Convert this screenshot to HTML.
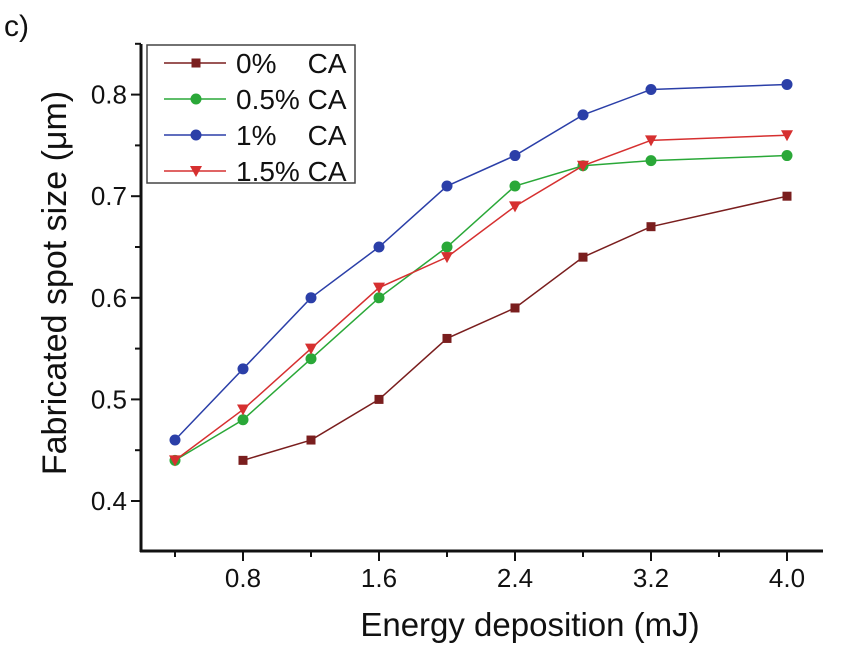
<!DOCTYPE html>
<html><head><meta charset="utf-8"><style>
html,body{margin:0;padding:0;background:#fff;}
svg{display:block;font-family:"Liberation Sans",Arial,sans-serif;}
</style></head><body>
<svg id="chart" width="858" height="648" viewBox="0 0 858 648">
<text x="4" y="36" font-size="30" fill="#111">c)</text>
<g id="axes"></g>
<g id="series"></g>
<g id="legend">
<rect x="147" y="45" width="208" height="138" fill="#fff" stroke="#444" stroke-width="1.5"/>
</g>
<text x="530" y="636" font-size="33" text-anchor="middle" fill="#111">Energy deposition (mJ)</text>
<text transform="translate(66,283) rotate(-90)" font-size="34" text-anchor="middle" fill="#111">Fabricated spot size (μm)</text>
</svg>
<script>
const xs9 = [0.4,0.8,1.2,1.6,2.0,2.4,2.8,3.2,4.0];
const xs0 = [0.8,1.2,1.6,2.0,2.4,2.8,3.2,4.0];
const ca0 = [0.44,0.46,0.50,0.56,0.59,0.64,0.67,0.70];
const ca05 = [0.44,0.48,0.54,0.60,0.65,0.71,0.73,0.735,0.74];
const ca1 = [0.46,0.53,0.60,0.65,0.71,0.74,0.78,0.805,0.81];
const ca15 = [0.44,0.49,0.55,0.61,0.64,0.69,0.73,0.755,0.76];
const xTicks = ["0.8","1.6","2.4","3.2","4.0"];
const yTicks = ["0.4","0.5","0.6","0.7","0.8"];
const names = ["0%    CA","0.5% CA","1%    CA","1.5% CA"];

const NS="http://www.w3.org/2000/svg";
function X(v){return 243+(v-0.8)*(787-243)/3.2;}
function Y(v){return 501-(v-0.4)*1016;}
function mk(tag,attrs,parent){const e=document.createElementNS(NS,tag);for(const k in attrs)e.setAttribute(k,attrs[k]);parent.appendChild(e);return e;}
const axes=document.getElementById('axes');
let a=mk('line',{x1:141,y1:44,x2:141,y2:552,stroke:'#111','stroke-width':3},axes);


a=mk('line',{x1:140,y1:551,x2:823,y2:551,stroke:'#111','stroke-width':3},axes);


for(let v=0.4;v<=4.01;v+=0.4){const major=xTicks.includes(v.toFixed(1));
 const t=mk('line',{x1:X(v),x2:X(v),y1:551,y2:major?561:557,stroke:'#111','stroke-width':2},axes);
 
 }
xTicks.forEach(s=>{const t=mk('text',{x:X(+s),y:587,'font-size':26,'text-anchor':'middle',fill:'#111'},axes);t.textContent=s;
 
 });
for(let v=0.4;v<=0.851;v+=0.05){
 const major=Math.abs(v*10-Math.round(v*10))<0.01;
 const t=mk('line',{x1:major?131:135,x2:141,y1:Y(v),y2:Y(v),stroke:'#111','stroke-width':2},axes);
 
 }
yTicks.forEach(s=>{const t=mk('text',{x:127,y:Y(+s)+9,'font-size':26,'text-anchor':'end',fill:'#111'},axes);t.textContent=s;
 
 });

const series=[
 {x:xs0,y:ca0,c:'#7a1e1e',m:'sq',n:'series-0pct'},
 {x:xs9,y:ca05,c:'#2aa838',m:'ci',n:'series-0-5pct'},
 {x:xs9,y:ca1,c:'#2b3fa8',m:'ci',n:'series-1pct'},
 {x:xs9,y:ca15,c:'#d63030',m:'tri',n:'series-1-5pct'}];
function marker(g,m,x,y,c){
 let e;
 if(m==='sq')e=mk('rect',{x:x-4.5,y:y-4.5,width:9,height:9,fill:c},g);
 else if(m==='ci')e=mk('circle',{cx:x,cy:y,r:5.5,fill:c},g);
 else e=mk('polygon',{points:`${x-6},${y-5} ${x+6},${y-5} ${x},${y+6}`,fill:c},g);
 
 
}
const sg=document.getElementById('series');
series.forEach(s=>{
 const g=mk('g',{},sg);
 
 
 const pts=s.x.map((v,i)=>X(v)+','+Y(s.y[i])).join(' ');
 mk('polyline',{points:pts,fill:'none',stroke:s.c,'stroke-width':1.5},g);
 s.x.forEach((v,i)=>marker(g,s.m,X(v),Y(s.y[i]),s.c));
});
const lg=document.getElementById('legend');
series.forEach((s,i)=>{
 const y=63+i*36;
 const g=mk('g',{},lg);
 
 
 mk('line',{x1:164,x2:226,y1:y,y2:y,stroke:s.c,'stroke-width':1.5},g);
 marker(g,s.m,196,y,s.c);
 const t=mk('text',{x:236,y:y+10,'font-size':28,fill:'#111'},g);
 t.setAttribute('style','white-space:pre');
 t.textContent=names[i];
});
</script>
</body></html>
